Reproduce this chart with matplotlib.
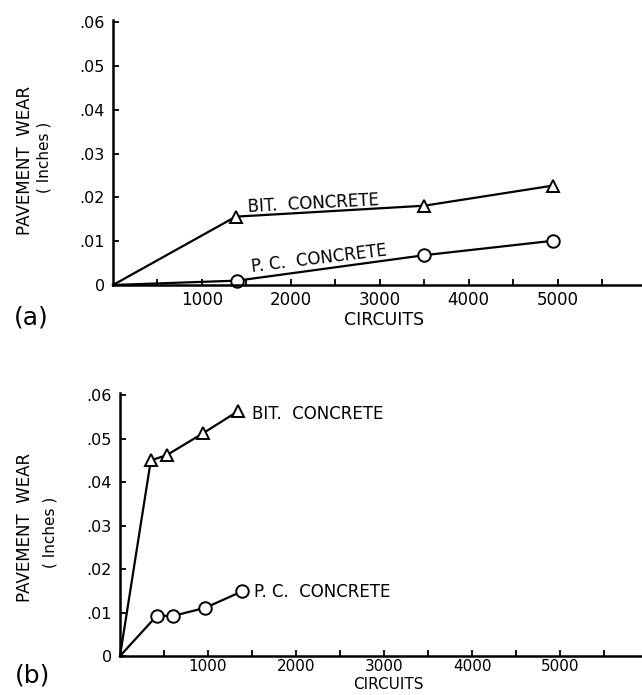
import matplotlib
matplotlib.use('Agg')
import matplotlib.pyplot as plt
from matplotlib.ticker import FixedLocator

plt.rcParams['font.family'] = ['DejaVu Sans']

# (a) wear vs circuits
a_bit_x = [0, 1380, 3500, 4950]
a_bit_y = [0, 0.0156, 0.0181, 0.0227]
a_pc_x = [0, 1400, 3500, 4950]
a_pc_y = [0, 0.0010, 0.0068, 0.0101]

# (b) wear vs circuits
b_bit_x = [0, 350, 530, 940, 1340]
b_bit_y = [0, 0.0450, 0.0462, 0.0512, 0.0563]
b_pc_x = [0, 420, 600, 970, 1390]
b_pc_y = [0, 0.0093, 0.0092, 0.0111, 0.0149]

y_ticks = [0, 0.01, 0.02, 0.03, 0.04, 0.05, 0.06]
y_labels = ['0', '.01', '.02', '.03', '.04', '.05', '.06']
x_ticks = [1000, 2000, 3000, 4000, 5000]
x_labels = ['1000', '2000', '3000', '4000', '5000']
x_minor = [500, 1500, 2500, 3500, 4500, 5500]

W, H = 642, 695
fig = plt.figure(figsize=(W / 100, H / 100), dpi=100)


def setup(ax, xmax, label_y, label_size, tick_size, tick_pad):
    ax.set_xlim(0, xmax)
    ax.set_ylim(0, 0.0605)
    for s in ('top', 'right'):
        ax.spines[s].set_visible(False)
    for s in ('left', 'bottom'):
        ax.spines[s].set_linewidth(1.8)
    ax.set_yticks(y_ticks)
    ax.set_yticklabels(y_labels, fontsize=11.5)
    ax.set_xticks(x_ticks)
    ax.set_xticklabels(x_labels, fontsize=tick_size)
    ax.xaxis.set_minor_locator(FixedLocator(x_minor))
    ax.tick_params(axis='both', which='both', direction='in', length=4, width=1.3)
    ax.tick_params(axis='y', pad=6)
    ax.tick_params(axis='x', pad=tick_pad)
    ax.set_xlabel('CIRCUITS', fontsize=label_size)
    ax.xaxis.set_label_coords(3050 / xmax, label_y)


def series(ax, x, y, marker, ms):
    ax.plot(x, y, color='black', lw=1.6, marker=marker, ms=ms,
            mfc='white', mec='black', mew=1.4, markevery=list(range(1, len(x))),
            clip_on=False)


# panel (a)
ax_a = fig.add_axes([113 / W, 1 - 285 / H, 1 - 113 / W, 265 / H])
setup(ax_a, 5950, -0.098, 12.5, 12, 4)
series(ax_a, a_bit_x, a_bit_y, '^', 8)
series(ax_a, a_pc_x, a_pc_y, 'o', 9)
ax_a.text(1520, 0.0178, 'BIT.  CONCRETE', fontsize=12, rotation=3,
          ha='left', va='center', rotation_mode='anchor')
ax_a.text(1560, 0.0040, 'P. C.  CONCRETE', fontsize=12, rotation=7,
          ha='left', va='center', rotation_mode='anchor')

# panel (b)
ax_b = fig.add_axes([120 / W, 1 - 656 / H, 1 - 120 / W, 263 / H])
setup(ax_b, 5930, -0.081, 11, 11, 2)
series(ax_b, b_bit_x, b_bit_y, '^', 8)
series(ax_b, b_pc_x, b_pc_y, 'o', 9)
ax_b.text(1500, 0.0556, 'BIT.  CONCRETE', fontsize=12, ha='left', va='center')
ax_b.text(1520, 0.0147, 'P. C.  CONCRETE', fontsize=12, ha='left', va='center')

# y axis titles
fig.text(25 / W, 1 - 160 / H, 'PAVEMENT  WEAR', rotation=90, fontsize=12,
         ha='center', va='center')
fig.text(44 / W, 1 - 157 / H, '( Inches )', rotation=90, fontsize=11,
         ha='center', va='center')
fig.text(25 / W, 1 - 527 / H, 'PAVEMENT  WEAR', rotation=90, fontsize=12,
         ha='center', va='center')
fig.text(50 / W, 1 - 532 / H, '( Inches )', rotation=90, fontsize=11,
         ha='center', va='center')

# panel tags
fig.text(31 / W, 1 - 318 / H, '(a)', fontsize=18, ha='center', va='center')
fig.text(33 / W, 1 - 675 / H, '(b)', fontsize=18, ha='center', va='center')

fig.savefig('out.png', dpi=100)
